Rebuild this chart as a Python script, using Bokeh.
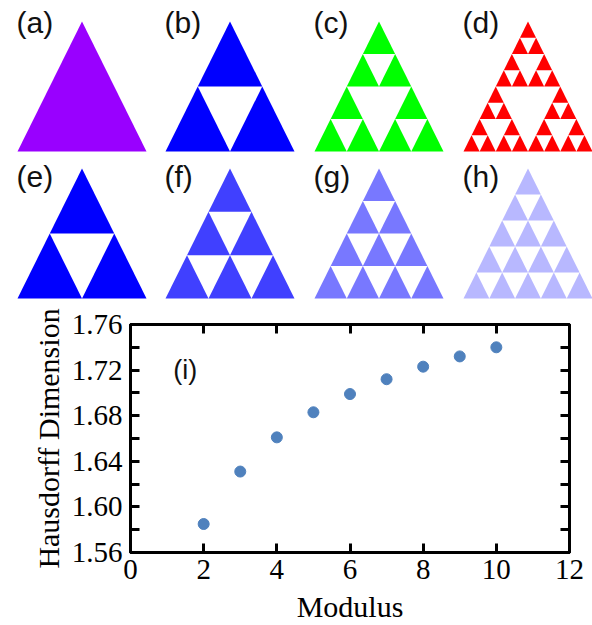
from math import comb
from bokeh.plotting import figure
from bokeh.models import (Range1d, LinearAxis, FixedTicker, CustomJSTickFormatter,
                          PrintfTickFormatter, Label)
from bokeh.embed import file_html
from bokeh.resources import INLINE
from bokeh.core.properties import value

# ---------------- data ----------------
panel_labels = ["(a)", "(b)", "(c)", "(d)", "(e)", "(f)", "(g)", "(h)"]
panel_rows = [1, 2, 4, 8, 2, 3, 4, 5]          # rows of Pascal's triangle drawn
panel_moduli = [2, 2, 2, 2, 2, 3, 4, 5]        # modulus of Pascal's triangle
panel_colors = ["#9900FF", "#0000FF", "#00FF00", "#FF0000",
                "#0000FF", "#4040FF", "#7878FF", "#B8B8FF"]

modulus = [2, 3, 4, 5, 6, 7, 8, 9, 10]
hausdorff = [1.585, 1.631, 1.661, 1.683, 1.699, 1.712, 1.723, 1.732, 1.740]
x_ticks = [0, 2, 4, 6, 8, 10, 12]
y_ticks = [1.56, 1.60, 1.64, 1.68, 1.72, 1.76]
y_minor = [1.58, 1.62, 1.66, 1.70, 1.74]

# ---------------- layout constants ----------------
W = 592
TOP_H = 305
col_left = [17, 165, 314, 463]
row_top = [21, 168]
label_top = [5, 159]
tri_w = 129
tri_h = 130
label_dx = -1

top = figure(width=W, height=TOP_H, x_range=Range1d(0, W), y_range=Range1d(TOP_H, 0),
             output_backend="svg", toolbar_location=None, min_border=0,
             x_axis_type=None, y_axis_type=None)
top.grid.visible = False
top.outline_line_color = None

xs, ys, cols = [], [], []
lx, ly = [], []
for i, (n, m, c) in enumerate(zip(panel_rows, panel_moduli, panel_colors)):
    left = col_left[i % 4]
    y0 = row_top[i // 4]
    cx = left + tri_w / 2
    w = tri_w / n
    h = tri_h / n
    for r in range(n):
        for k in range(r + 1):
            if comb(r, k) % m != 0:
                ax = cx + (k - r / 2) * w
                xs.append([ax, ax - w / 2, ax + w / 2])
                ys.append([y0 + r * h, y0 + (r + 1) * h, y0 + (r + 1) * h])
                cols.append(c)
    lx.append(left + label_dx)
    ly.append(label_top[i // 4])

top.patches(xs, ys, fill_color=cols, line_color=None)
top.text(x=lx, y=ly, text=panel_labels, text_font=value("Liberation Sans"),
         text_font_size=value("30px"), text_baseline="top", text_align="left",
         text_color="#111111")

# ---------------- scatter ----------------
p = figure(width=W, height=320, x_range=Range1d(0, 12), y_range=Range1d(1.56, 1.76),
           output_backend="svg", toolbar_location=None,
           min_border_left=130, min_border_right=23, min_border_top=19, min_border_bottom=62)
p.grid.visible = False
p.outline_line_color = "black"
p.outline_line_width = 3

font = "Liberation Serif"
p.xaxis.ticker = FixedTicker(ticks=x_ticks)
p.yaxis.ticker = FixedTicker(ticks=y_ticks, minor_ticks=y_minor)
p.yaxis.formatter = PrintfTickFormatter(format="%.2f")
p.add_layout(LinearAxis(ticker=FixedTicker(ticks=x_ticks),
                        formatter=CustomJSTickFormatter(code="return ''")), "above")
p.add_layout(LinearAxis(ticker=FixedTicker(ticks=y_ticks, minor_ticks=y_minor),
                        formatter=CustomJSTickFormatter(code="return ''")), "right")

for ax in p.axis:
    ax.axis_line_width = 3
    ax.axis_line_color = "black"
    ax.major_tick_in = 9
    ax.major_tick_out = 0
    ax.minor_tick_in = 9
    ax.minor_tick_out = 0
    ax.major_tick_line_width = 3
    ax.minor_tick_line_width = 3
    ax.major_tick_line_color = "black"
    ax.minor_tick_line_color = "black"
    ax.major_label_text_font = font
    ax.major_label_text_font_size = "29px"
    ax.major_label_text_color = "black"
    ax.axis_label_text_font = font
    ax.axis_label_text_font_size = "30px"
    ax.axis_label_text_font_style = "normal"
    ax.axis_label_text_color = "black"

for ax in p.xaxis:
    ax.minor_tick_line_color = None

p.below[0].axis_label = "Modulus"
p.below[0].major_label_standoff = 7
p.below[0].axis_label_standoff = 8
p.left[0].axis_label = "Hausdorff Dimension"
p.left[0].major_label_standoff = 8
p.left[0].axis_label_standoff = 4
p.above[0].major_label_standoff = 0
p.right[0].major_label_standoff = 0

p.scatter(modulus, hausdorff, size=11, color="#4F81BD")
p.add_layout(Label(x=1.17, y=1.72, text="(i)", text_font="Liberation Sans",
                   text_font_size="27px", text_baseline="middle", text_color="#111111"))

open("out.html", "w").write(file_html([top, p], INLINE))
